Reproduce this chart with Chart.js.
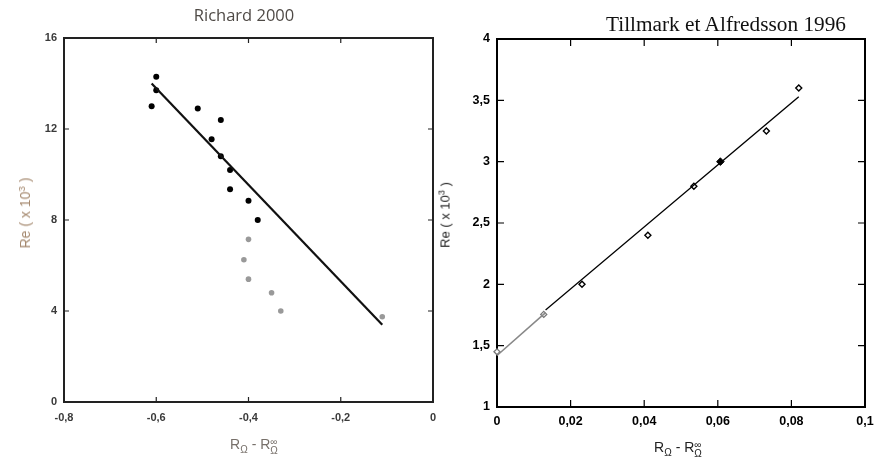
<!DOCTYPE html>
<html><head><meta charset="utf-8">
<script src="https://cdn.jsdelivr.net/npm/chart.js@4/dist/chart.umd.min.js"></script>
<style>
body{margin:0;width:874px;height:461px;background:#fff;position:relative;overflow:hidden;font-family:"Liberation Sans",Arial,sans-serif}
.c{position:absolute;top:0;width:437px;height:461px}
#w1{left:0}#w2{left:437px}
.t{position:absolute;white-space:nowrap;line-height:1}
.rot{transform:translate(-50%,-50%) rotate(-90deg)}
.ctr{transform:translate(-50%,-50%)}
.st{display:inline-block;vertical-align:-0.45em;line-height:0.85;font-size:0.72em;text-align:left}
.st span{display:block}
.sb{display:inline-block;font-size:0.72em;vertical-align:-0.35em}
sup{font-size:0.7em;vertical-align:0.55em;line-height:0}
</style></head><body>
<div class="c" id="w1"><canvas id="c1" width="437" height="461"></canvas></div>
<div class="c" id="w2"><canvas id="c2" width="437" height="461"></canvas></div>
<div class="t ctr" style="left:244px;top:15px;font-family:'Open Sans',sans-serif;font-size:16.5px;color:#4f4a46">Richard 2000</div>
<div class="t" style="left:606px;top:14px;font-family:'Liberation Serif',serif;font-size:21.3px;color:#111">Tillmark et Alfredsson 1996</div>
<div class="t rot" style="left:25px;top:213px;font-size:14px;color:#a5896f">Re ( x 10<sup>3</sup> )</div>
<div class="t ctr" style="left:254px;top:446px;font-size:14px;color:#77706a">R<span class="sb">Ω</span> - R<span class="st"><span>∞</span><span>Ω</span></span></div>
<div class="t rot" style="left:445px;top:215px;font-size:13px;color:#222">Re ( x 10<sup>3</sup> )</div>
<div class="t ctr" style="left:678px;top:449px;font-size:14px;color:#222">R<span class="sb">Ω</span> - R<span class="st"><span>∞</span><span>Ω</span></span></div>
<script>
// ---- Richard 2000 ----
const richardBlackX = [-0.60, -0.60, -0.61, -0.51, -0.46, -0.48, -0.46, -0.44, -0.44, -0.40, -0.38];
const richardBlackY = [14.3, 13.7, 13.0, 12.9, 12.4, 11.55, 10.8, 10.2, 9.35, 8.85, 8.0];
const richardGrayX = [-0.40, -0.41, -0.40, -0.35, -0.33, -0.11];
const richardGrayY = [7.15, 6.25, 5.4, 4.8, 4.0, 3.75];
const richardFitX = [-0.61, -0.11];
const richardFitY = [14.0, 3.4];
const richardXTicks = [-0.8, -0.6, -0.4, -0.2, 0];
const richardYTicks = [0, 4, 8, 12, 16];

// ---- Tillmark et Alfredsson 1996 ----
const tillOpenX = [0.0231, 0.0410, 0.0535, 0.0732, 0.0820];
const tillOpenY = [2.0, 2.4, 2.8, 3.25, 3.6];
const tillFilledX = [0.0607];
const tillFilledY = [3.0];
const tillGrayX = [0, 0.0127];
const tillGrayY = [1.45, 1.755];
const tillFitX = [0.0132, 0.0820];
const tillFitY = [1.79, 3.53];
const tillGrayFitX = [0, 0.0132];
const tillGrayFitY = [1.42, 1.77];
const tillXTicks = [0, 0.02, 0.04, 0.06, 0.08, 0.1];
const tillYTicks = [1, 1.5, 2, 2.5, 3, 3.5, 4];

const pts = (xs, ys) => xs.map((x, i) => ({x, y: ys[i]}));
const fmt = v => String(v).replace('.', ',');

function framePlugin(color, lw, len) {
  return {
    id: 'frame',
    beforeDatasetsDraw(chart) {
      const {ctx, chartArea: a, scales} = chart;
      ctx.save();
      ctx.strokeStyle = color;
      ctx.lineWidth = lw;
      ctx.strokeRect(a.left, a.top, a.right - a.left, a.bottom - a.top);
      ctx.lineWidth = 1.2;
      ctx.beginPath();
      scales.x.ticks.forEach(t => {
        const px = scales.x.getPixelForValue(t.value);
        ctx.moveTo(px, a.bottom); ctx.lineTo(px, a.bottom - len);
        ctx.moveTo(px, a.top); ctx.lineTo(px, a.top + len);
      });
      scales.y.ticks.forEach(t => {
        const py = scales.y.getPixelForValue(t.value);
        ctx.moveTo(a.left, py); ctx.lineTo(a.left + len, py);
        ctx.moveTo(a.right, py); ctx.lineTo(a.right - len, py);
      });
      ctx.stroke();
      ctx.restore();
    }
  };
}

function scaleOpts(min, max, ticksArr, axis, fixedSize, pad, font, color) {
  return {
    type: 'linear', min, max,
    grid: {display: false, drawTicks: false},
    border: {display: false},
    afterBuildTicks: s => { s.ticks = ticksArr.map(v => ({value: v})); },
    afterFit: s => {
      if (axis === 'x') { s.height = fixedSize; s.paddingLeft = 0; s.paddingRight = 0; }
      else { s.width = fixedSize; s.paddingTop = 0; s.paddingBottom = 0; }
    },
    ticks: {padding: pad, color, font, callback: v => fmt(v), autoSkip: false, maxRotation: 0}
  };
}

new Chart(document.getElementById('c1'), {
  type: 'scatter',
  data: {datasets: [
    {data: pts(richardFitX, richardFitY), showLine: true, borderColor: '#111', borderWidth: 2.2, pointRadius: 0, clip: false},
    {data: pts(richardBlackX, richardBlackY), backgroundColor: '#000', borderColor: '#000', pointRadius: 3, borderWidth: 0, clip: false},
    {data: pts(richardGrayX, richardGrayY), backgroundColor: '#999', borderColor: '#999', pointRadius: 2.8, borderWidth: 0, clip: false}
  ]},
  options: {
    responsive: false, animation: false,
    layout: {padding: {top: 38, right: 4, left: 0, bottom: 0}},
    plugins: {legend: {display: false}, tooltip: {enabled: false}},
    scales: {
      x: scaleOpts(-0.8, 0, richardXTicks, 'x', 59, 9, {family: 'Liberation Sans', size: 11, weight: 'bold'}, '#3a3a3a'),
      y: scaleOpts(0, 16, richardYTicks, 'y', 64, 7, {family: 'Liberation Sans', size: 11, weight: 'bold'}, '#3a3a3a')
    }
  },
  plugins: [framePlugin('#222', 2, 5)]
});

new Chart(document.getElementById('c2'), {
  type: 'scatter',
  data: {datasets: [
    {data: pts(tillGrayFitX, tillGrayFitY), showLine: true, borderColor: '#888', borderWidth: 1.6, pointRadius: 0, clip: false},
    {data: pts(tillFitX, tillFitY), showLine: true, borderColor: '#000', borderWidth: 1.3, pointRadius: 0, clip: false},
    {data: pts(tillOpenX, tillOpenY), pointStyle: 'rectRot', backgroundColor: '#fff', borderColor: '#000', pointRadius: 3, borderWidth: 1.4, clip: false},
    {data: pts(tillFilledX, tillFilledY), pointStyle: 'rectRot', backgroundColor: '#000', borderColor: '#000', pointRadius: 3.8, borderWidth: 1, clip: false},
    {data: pts(tillGrayX, tillGrayY), pointStyle: 'rectRot', backgroundColor: '#fff', borderColor: '#777', pointRadius: 3, borderWidth: 1.3, clip: false}
  ]},
  options: {
    responsive: false, animation: false,
    layout: {padding: {top: 39, right: 9, left: 0, bottom: 0}},
    plugins: {legend: {display: false}, tooltip: {enabled: false}},
    scales: {
      x: scaleOpts(0, 0.1, tillXTicks, 'x', 54, 7, {family: 'Liberation Sans', size: 12.5, weight: 'bold'}, '#000'),
      y: scaleOpts(1, 4, tillYTicks, 'y', 60, 7, {family: 'Liberation Sans', size: 12.5, weight: 'bold'}, '#000')
    }
  },
  plugins: [framePlugin('#000', 2, 7)]
});
</script>
</body></html>
